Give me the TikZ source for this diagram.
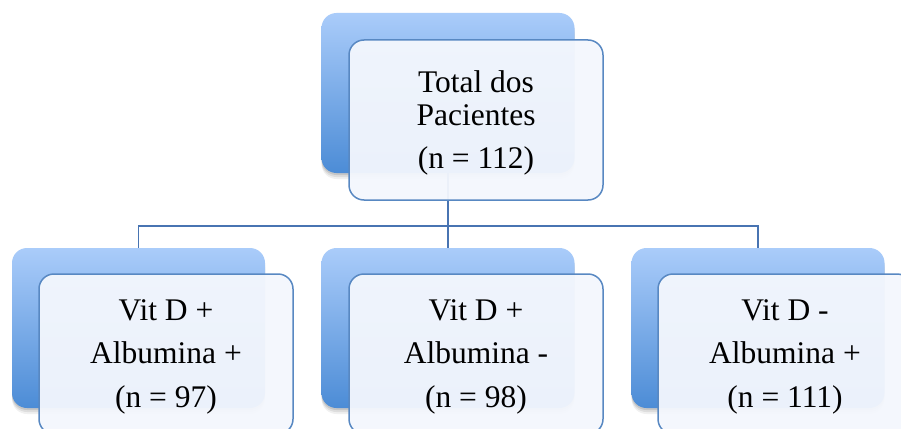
\documentclass[tikz,border=0pt]{standalone}
\usepackage{fontspec}
\setmainfont{Liberation Serif}
\definecolor{backtop}{RGB}{170,204,250}
\definecolor{backbot}{RGB}{76,140,214}
\definecolor{frontfill}{RGB}{244,247,253}
\definecolor{edgecol}{RGB}{88,136,194}
\definecolor{conncol}{RGB}{72,116,178}
\tikzset{
  backbox/.style={rectangle, rounded corners=15pt, minimum width=253pt, minimum height=160pt,
    inner sep=0pt, top color=backtop, bottom color=backbot, draw=none,
    preaction={fill=black, fill opacity=0.06, transform canvas={yshift=-6pt}},
    preaction={fill=black, fill opacity=0.08, transform canvas={yshift=-4pt}},
    preaction={fill=black, fill opacity=0.10, transform canvas={yshift=-2pt}}},
  frontbox/.style={rectangle, rounded corners=15pt, minimum width=254pt, minimum height=160pt,
    inner sep=0pt, draw=edgecol, line width=1.5pt, fill=frontfill, fill opacity=0.95},
  txt/.style={anchor=base, inner sep=0pt, font=\fontsize{31.5}{36}\selectfont},
  conn/.style={draw=conncol, line width=1.5pt}
}
\begin{document}
\begin{tikzpicture}[x=1pt,y=-1pt]
\useasboundingbox (0,0) rectangle (901,428);
\clip (0,0) rectangle (901,428);
\fill[white] (0,0) rectangle (901,428);
% back boxes
\node[backbox] (topback) at (448,93) {};
\node[backbox] (leftback) at (138.5,328) {};
\node[backbox] (midback) at (448,328) {};
\node[backbox] (rightback) at (758,328) {};
% connectors
\coordinate (bus) at (0,226);
\draw[conn] (topback.south) -- (topback.south |- bus);
\draw[conn] (leftback.north) -- (leftback.north |- bus) -- (rightback.north |- bus) -- (rightback.north);
\draw[conn] (midback.north) -- (midback.north |- bus);
% front boxes
\node[frontbox] (topfront) at (476,120) {};
\node[frontbox] (leftfront) at (166,354) {};
\node[frontbox] (midfront) at (476,354) {};
\node[frontbox] (rightfront) at (785,354) {};
% texts
\node[txt] (t1) at (476,92) {Total dos};
\node[txt] (t2) at (476,125) {Pacientes};
\node[txt] (t3) at (476,168) {(n = 112)};
\node[txt] (l1) at (166,320) {Vit D +};
\node[txt] (l2) at (166,363) {Albumina +};
\node[txt] (l3) at (166,407) {(n = 97)};
\node[txt] (m1) at (476,320) {Vit D +};
\node[txt] (m2) at (476,363) {Albumina -};
\node[txt] (m3) at (476,407) {(n = 98)};
\node[txt] (r1) at (785,320) {Vit D -};
\node[txt] (r2) at (785,363) {Albumina +};
\node[txt] (r3) at (785,407) {(n = 111)};
\end{tikzpicture}
\end{document}
